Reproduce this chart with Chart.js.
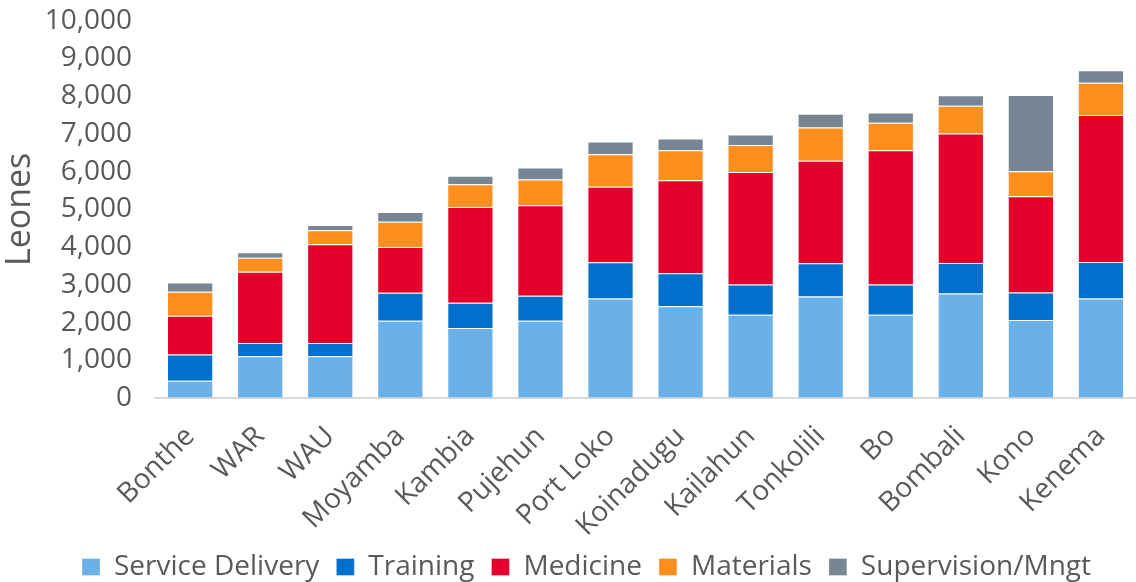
<!DOCTYPE html>
<html>
<head>
<meta charset="utf-8">
<script src="https://cdn.jsdelivr.net/npm/chart.js@4.4.1/dist/chart.umd.min.js"></script>
<style>
  html, body { margin: 0; padding: 0; background: #fff; }
  #wrap { width: 1136px; height: 582px; }
</style>
</head>
<body>
<div id="wrap"><canvas id="myChart"></canvas></div>
<script>
// Cost per district, split by component (Leones)
const districts = ["Bonthe", "WAR", "WAU", "Moyamba", "Kambia", "Pujehun", "Port Loko",
  "Koinadugu", "Kailahun", "Tonkolili", "Bo", "Bombali", "Kono", "Kenema"];

const serviceDelivery = [460, 1105, 1105, 2050, 1855, 2050, 2640, 2430, 2210, 2690, 2210, 2770, 2070, 2640];
const training        = [690, 350, 350, 740, 670, 660, 960, 880, 800, 885, 800, 810, 730, 965];
const medicine        = [1030, 1890, 2620, 1210, 2540, 2400, 2000, 2460, 2980, 2715, 3555, 3430, 2550, 3895];
const materials       = [640, 370, 375, 670, 600, 680, 860, 800, 720, 880, 735, 740, 660, 860];
const supervision     = [240, 150, 135, 260, 230, 320, 340, 310, 275, 365, 270, 275, 2020, 330];

const yTicks = [0, 1000, 2000, 3000, 4000, 5000, 6000, 7000, 8000, 9000, 10000];

const seriesColors = {
  service: "#69b1e8",
  training: "#0070cc",
  medicine: "#e4002b",
  materials: "#ff8f1c",
  supervision: "#768694"
};

function makeSet(label, data, color) {
  return {
    label: label,
    data: data,
    backgroundColor: color,
    borderColor: "rgba(255,255,255,0.35)",
    borderWidth: 1,
    barPercentage: 0.66,
    categoryPercentage: 1.0
  };
}

// after layout: nudge the legend row, and let the rotated x labels
// run past the (short) x-axis box instead of being clipped
const layoutTweaks = {
  id: "layoutTweaks",
  afterLayout(chart) {
    const lg = chart.legend;
    if (lg) {
      lg.left += 12; lg.right += 12;
      lg.top += 9; lg.bottom += 9;
    }
    const x = chart.scales.x;
    if (x) x.bottom += 60;
  }
};

Chart.defaults.font.family = "'Open Sans', sans-serif";
Chart.defaults.color = "#595959";

new Chart(document.getElementById("myChart"), {
  type: "bar",
  data: {
    labels: districts,
    datasets: [
      makeSet("Service Delivery", serviceDelivery, seriesColors.service),
      makeSet("Training", training, seriesColors.training),
      makeSet("Medicine", medicine, seriesColors.medicine),
      makeSet("Materials", materials, seriesColors.materials),
      makeSet("Supervision/Mngt", supervision, seriesColors.supervision)
    ]
  },
  plugins: [layoutTweaks],
  options: {
    responsive: true,
    maintainAspectRatio: false,
    animation: false,
    layout: { padding: { top: 14, right: -13, bottom: 0, left: 0 } },
    plugins: {
      tooltip: { enabled: false },
      legend: {
        position: "bottom",
        labels: {
          font: { size: 28 },
          color: "#595959",
          boxWidth: 18,
          boxHeight: 17,
          padding: 17
        }
      }
    },
    scales: {
      x: {
        stacked: true,
        grid: { display: false, drawTicks: false },
        border: { display: true, color: "#d9d9d9", width: 2 },
        ticks: {
          font: { size: 28 },
          color: "#595959",
          minRotation: 45,
          maxRotation: 45,
          padding: 22
        },
        afterFit: (scale) => {
          scale.height = 129;
          scale.paddingLeft = 0;
          scale.paddingRight = 0;
        }
      },
      y: {
        stacked: true,
        min: 0,
        max: 10000,
        afterBuildTicks: (axis) => { axis.ticks = yTicks.map(v => ({ value: v })); },
        grid: { display: true, drawOnChartArea: false, drawTicks: true, tickLength: 19, tickColor: "rgba(0,0,0,0)" },
        border: { display: false },
        ticks: {
          font: { size: 28 },
          color: "#595959",
          padding: 4,
          callback: (v) => v.toLocaleString("en-US")
        },
        title: {
          display: true,
          text: "Leones",
          font: { size: 34 },
          color: "#595959",
          padding: 0
        }
      }
    }
  }
});
</script>
</body>
</html>
